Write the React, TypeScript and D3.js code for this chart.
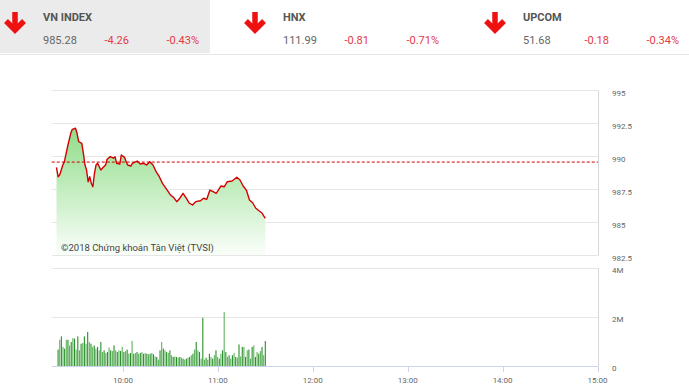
import React, { useEffect } from "react";
import * as d3 from "d3";

const indexNames = ["VN INDEX", "HNX", "UPCOM"];
const indexValues = ["985.28", "111.99", "51.68"];
const indexChanges = ["-4.26", "-0.81", "-0.18"];
const indexPcts = ["-0.43%", "-0.71%", "-0.34%"];

const refPrice = 989.54;

const priceTimes = [
  "09:18", "09:19", "09:20", "09:22", "09:23", "09:25", "09:27", "09:28", "09:30", "09:31",
  "09:32", "09:34", "09:35", "09:36", "09:37", "09:38", "09:39", "09:40", "09:41", "09:42",
  "09:43", "09:44", "09:46", "09:47", "09:49", "09:50", "09:52", "09:54", "09:55", "09:56",
  "09:58", "09:59", "10:01", "10:02", "10:03", "10:05", "10:06", "10:09", "10:11", "10:13",
  "10:15", "10:17", "10:19", "10:21", "10:23", "10:25", "10:28", "10:30", "10:32", "10:34",
  "10:36", "10:38", "10:40", "10:42", "10:44", "10:46", "10:49", "10:51", "10:53", "10:55",
  "10:57", "10:59", "11:02", "11:04", "11:06", "11:09", "11:12", "11:14", "11:16", "11:18",
  "11:20", "11:22", "11:24", "11:28", "11:30",
];
const priceValues = [
  989.14, 988.43, 988.56, 989.32, 989.57, 990.7, 991.72, 992.02, 992.1, 991.72,
  991.08, 990.96, 990.2, 989.32, 988.94, 988.05, 988.43, 987.93, 987.67, 988.69,
  989.32, 989.45, 988.94, 989.07, 989.32, 989.75, 989.95, 989.83, 989.95, 989.45,
  989.39, 990.08, 989.9, 989.57, 989.32, 989.24, 989.45, 989.62, 989.39, 989.45,
  989.32, 989.57, 989.32, 988.81, 988.43, 987.93, 987.42, 987.05, 986.87, 986.54,
  986.8, 987.17, 986.8, 986.42, 986.29, 986.54, 986.61, 986.8, 986.72, 987.42,
  987.3, 987.17, 987.73, 987.67, 988.05, 988.11, 988.39, 988.18, 987.73, 987.42,
  986.67, 986.46, 986.04, 985.66, 985.28,
];

const volumeStart = "09:19";
const volumeEnd = "11:30";
const volumes = [
  0.67, 1.07, 1.21, 0.78, 0.71, 1.07, 1.07, 0.84, 0.98, 1.14,
  1.12, 0.67, 1.21, 0.64, 0.91, 0.94, 1.21, 0.91, 1.39, 0.98,
  0.91, 0.78, 0.84, 0.71, 0.78, 0.64, 0.98, 0.57, 0.64, 0.53,
  0.57, 0.75, 0.64, 0.61, 0.84, 0.64, 0.57, 0.64, 0.61, 0.78,
  0.57, 0.61, 0.67, 0.5, 0.53, 1.02, 0.5, 0.53, 0.57, 0.5,
  0.53, 0.57, 0.5, 0.53, 0.5, 0.48, 0.5, 0.53, 0.48, 0.39,
  0.37,
  0.26, 0.64, 0.98, 0.71, 0.64, 0.57, 0.53, 0.64, 0.44, 0.37,
  0.39, 0.37, 0.34, 0.37, 0.34, 0.3, 0.26, 0.3, 0.34, 0.37,
  0.44, 0.5, 0.67, 0.98, 0.64, 0.57, 0.3, 1.97, 0.26, 0.34,
  0.26, 0.5, 0.37, 0.3, 0.44, 0.64, 0.37, 0.3, 0.5, 0.64,
  2.2, 0.57, 0.37, 0.44, 0.3, 0.44, 0.53, 0.37, 0.34, 0.88,
  0.39, 0.78, 0.78, 0.37, 0.64, 0.67, 0.3, 0.78, 0.84, 0.37,
  0.57, 0.5, 0.61, 0.78, 0.44, 1.02,
];

const priceTicks = [982.5, 985, 987.5, 990, 992.5, 995];
const volumeTicks = [0, 2, 4];
const volumeTickLabels = ["0", "2M", "4M"];
const timeTicks = ["10:00", "11:00", "12:00", "13:00", "14:00", "15:00"];

const toMin = (s: string) => {
  const [h, m] = s.split(":").map(Number);
  return h * 60 + m;
};

const FONT = "Roboto, 'Noto Sans', sans-serif";

function Arrow({ cx }: { cx: number }) {
  return (
    <g fill="none" stroke="#ee1111" strokeWidth={5.5}>
      <line x1={cx} y1={12} x2={cx} y2={30} />
      <polyline points={`${cx - 9},${21} ${cx},${30} ${cx + 9},${21}`} strokeLinejoin="miter" />
    </g>
  );
}

export default function App() {
  useEffect(() => {
    document.body.style.margin = "0";
  }, []);

  const W = 689;
  const H = 392;
  const x = d3.scaleLinear().domain([toMin("09:15"), toMin("15:00")]).range([51.75, 597.5]);
  const yP = d3.scaleLinear().domain([982.5, 995]).range([255, 90]);
  const yV = d3.scaleLinear().domain([0, 4]).range([366, 268]);

  const pts = priceTimes.map((t, i) => ({ t: toMin(t), v: priceValues[i] }));
  const line = d3.line<{ t: number; v: number }>().x((d) => x(d.t)).y((d) => yP(d.v));
  const area = d3
    .area<{ t: number; v: number }>()
    .x((d) => x(d.t))
    .y0(yP(982.5))
    .y1((d) => yP(d.v));

  const vStart = toMin(volumeStart);
  const vEnd = toMin(volumeEnd);
  const vStep = (vEnd - vStart) / (volumes.length - 1);

  const left = x(toMin("09:15"));
  const right = 598;

  return (
    <svg width={W} height={H} style={{ display: "block", background: "#fff" }} fontFamily={FONT}>
      <defs>
        <linearGradient id="gfill" gradientUnits="userSpaceOnUse" x1={0} y1={125} x2={0} y2={255}>
          <stop offset="0" stopColor="#8edc86" />
          <stop offset="1" stopColor="#fafefa" />
        </linearGradient>
      </defs>

      {/* header */}
      <rect x={0} y={0} width={210} height={53} fill="#ebebeb" />
      <line x1={0} x2={W} y1={54.5} y2={54.5} stroke="#e6e6e6" />
      {indexNames.map((n, i) => {
        const ox = i * 240;
        return (
          <g key={n}>
            <Arrow cx={ox + 15} />
            <text x={ox + 43} y={20.5} fontSize={11} fontWeight="bold" fill="#555">
              {n}
            </text>
            <text x={ox + 43} y={44} fontSize={11} fill="#666">
              {indexValues[i]}
            </text>
            <text x={ox + 104.5} y={44} fontSize={11} fill="#e53945">
              {indexChanges[i]}
            </text>
            <text x={ox + 166.5} y={44} fontSize={11} fill="#e53945">
              {indexPcts[i]}
            </text>
          </g>
        );
      })}

      {/* price panel grid */}
      {priceTicks.map((t) => (
        <g key={t}>
          <line x1={left} x2={right} y1={Math.round(yP(t)) + 0.5} y2={Math.round(yP(t)) + 0.5} stroke="#e6e6e6" />
          <text x={612} y={yP(t) + 5.5} fontSize={8} fill="#666">
            {t}
          </text>
        </g>
      ))}
      <line x1={right + 0.5} x2={right + 0.5} y1={90} y2={255.5} stroke="#d8d8d8" />

      <path d={area(pts) || ""} fill="url(#gfill)" />
      <path d={line(pts) || ""} fill="none" stroke="#d40000" strokeWidth={1.4} strokeLinejoin="round" />
      <line
        x1={left}
        x2={right}
        y1={yP(refPrice)}
        y2={yP(refPrice)}
        stroke="#cc0000"
        strokeWidth={1}
        strokeDasharray="3,2"
      />
      <text x={61} y={251} fontSize={9.5} fill="#444">
        ©2018 Chứng khoán Tân Việt (TVSI)
      </text>

      {/* volume panel */}
      {volumeTicks.map((t, i) => (
        <g key={t}>
          {t > 0 && (
            <line x1={left} x2={right} y1={Math.round(yV(t)) + 0.5} y2={Math.round(yV(t)) + 0.5} stroke="#e6e6e6" />
          )}
          <text x={612} y={yV(t) + 5} fontSize={8} fill="#666">
            {volumeTickLabels[i]}
          </text>
        </g>
      ))}
      <line x1={right + 0.5} x2={right + 0.5} y1={268} y2={366} stroke="#d8d8d8" />
      {volumes.map((v, i) => {
        const cx = x(vStart + i * vStep);
        return (
          <rect
            key={i}
            x={cx - 0.55}
            width={1.1}
            y={yV(v)}
            height={yV(0) - yV(v)}
            fill={i % 2 === 0 ? "#2a8f2a" : "#5cb35c"}
          />
        );
      })}
      <line x1={left} x2={right} y1={366.5} y2={366.5} stroke="#ccd6eb" />
      {timeTicks.map((t) => {
        const tx = Math.round(x(toMin(t))) + 0.5;
        return (
          <g key={t}>
            <line x1={tx} x2={tx} y1={366.5} y2={372} stroke="#ccd6eb" />
            <text x={x(toMin(t))} y={382.5} fontSize={8} fill="#666" textAnchor="middle">
              {t}
            </text>
          </g>
        );
      })}
    </svg>
  );
}
